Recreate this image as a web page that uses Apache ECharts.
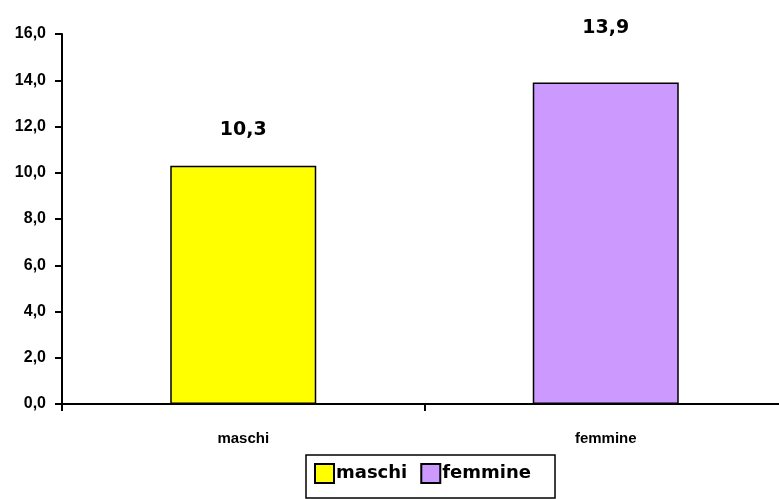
<!DOCTYPE html>
<html>
<head>
<meta charset="utf-8">
<script src="https://cdn.jsdelivr.net/npm/echarts@6/dist/echarts.min.js"></script>
<style>
  html, body { margin: 0; padding: 0; background: #fff; overflow: hidden; }
  #chart { width: 787px; height: 499px; }
</style>
</head>
<body>
<div id="chart"></div>
<script>
    // dati
    var categorie = ['maschi', 'femmine'];
    var valoriMaschi = [10.3, '-'];
    var valoriFemmine = ['-', 13.9];
    var colori = ['#FFFF00', '#CC99FF'];

    function virgola(v) {
        return v.toFixed(1).replace('.', ',');
    }

    var chart = echarts.init(document.getElementById('chart'));

    function etichetta(dist) {
        return {
            show: true,
            position: 'top',
            distance: dist,
            color: '#000',
            fontFamily: 'DejaVu Sans',
            fontWeight: 'bold',
            fontSize: 19,
            formatter: function (p) { return virgola(p.value); }
        };
    }

    var option = {
        animation: false,
        grid: { left: 62, right: 0, top: 34, bottom: 95, containLabel: false },
        legend: {
            data: categorie,
            left: 306,
            top: 455,
            padding: [8, 24, 14, 8],
            itemGap: 13,
            itemWidth: 19,
            itemHeight: 19,
            borderColor: '#000',
            borderWidth: 1.5,
            icon: 'rect',
            textStyle: { fontFamily: 'DejaVu Sans', fontWeight: 'bold', fontSize: 18, color: '#000', padding: [0, 0, 0, -3] }
        },
        xAxis: {
            type: 'category',
            data: categorie,
            boundaryGap: true,
            axisLine: { lineStyle: { color: '#000', width: 2 } },
            axisTick: { show: true, length: 7, lineStyle: { color: '#000', width: 2 } },
            axisLabel: { margin: 27, color: '#000', fontFamily: 'Liberation Sans', fontWeight: 'bold', fontSize: 15 }
        },
        yAxis: {
            type: 'value',
            min: 0,
            max: 16,
            interval: 2,
            axisLine: { show: true, lineStyle: { color: '#000', width: 2 } },
            axisTick: { show: true, length: 7, lineStyle: { color: '#000', width: 2 } },
            splitLine: { show: false },
            axisLabel: {
                margin: 16, color: '#000', fontFamily: 'Liberation Sans', fontWeight: 'bold', fontSize: 16,
                formatter: function (v) { return virgola(v); }
            }
        },
        series: [
            {
                name: 'maschi', type: 'bar', data: valoriMaschi, barWidth: 146, barGap: '-100%',
                itemStyle: { color: colori[0], borderColor: '#000', borderWidth: 1.5 },
                label: etichetta(26)
            },
            {
                name: 'femmine', type: 'bar', data: valoriFemmine, barWidth: 146,
                itemStyle: { color: colori[1], borderColor: '#000', borderWidth: 1.5 },
                label: etichetta(45)
            }
        ]
    };

    chart.setOption(option);
</script>
</body>
</html>
